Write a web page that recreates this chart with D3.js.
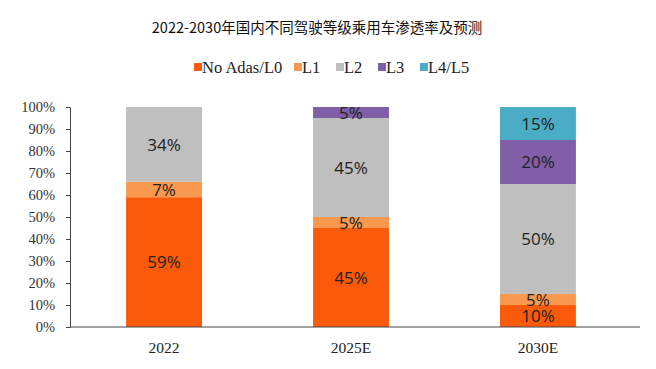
<!DOCTYPE html>
<html>
<head>
<meta charset="utf-8">
<script src="https://cdn.jsdelivr.net/npm/d3@7"></script>
<style>
  body { margin: 0; background: #fff; }
  svg { display: block; }
</style>
</head>
<body>
<svg id="chart" width="656" height="369"></svg>
<script>
// data
const years = ["2022", "2025E", "2030E"];
const levels = ["No Adas/L0", "L1", "L2", "L3", "L4/L5"];
const colors = ["#fb5a0b", "#f8994f", "#bfbfbf", "#7f5fa8", "#4bacc6"];
const l0 = [59, 45, 10];
const l1 = [7, 5, 5];
const l2 = [34, 45, 50];
const l3 = [0, 5, 20];
const l45 = [0, 0, 15];
const yTicks = [0, 10, 20, 30, 40, 50, 60, 70, 80, 90, 100];

const svg = d3.select("#chart");
const margin = { top: 107, left: 70 };
const width = 562;
const height = 220;

const rows = years.map((y, i) => ({ year: y, "No Adas/L0": l0[i], "L1": l1[i], "L2": l2[i], "L3": l3[i], "L4/L5": l45[i] }));
const series = d3.stack().keys(levels)(rows);

const x = d3.scaleBand().domain(years).range([0, width]).paddingInner(0.594).paddingOuter(0.3);
const y = d3.scaleLinear().domain([0, 100]).range([height, 0]);
const color = d3.scaleOrdinal().domain(levels).range(colors);

// title
svg.append("text")
  .attr("x", 317).attr("y", 33)
  .attr("text-anchor", "middle")
  .style("font-family", "'Noto Sans CJK SC', 'Noto Sans', sans-serif")
  .style("font-size", "14.5px")
  .style("fill", "#111")
  .text("2022-2030年国内不同驾驶等级乘用车渗透率及预测");

// legend
const legendX = [194, 294, 336, 378, 420];
const legend = svg.append("g").selectAll("g").data(levels).enter().append("g")
  .attr("transform", (d, i) => "translate(" + legendX[i] + ",63)");
legend.append("rect").attr("width", 8).attr("height", 8).attr("fill", d => color(d));
legend.append("text")
  .attr("x", 8).attr("y", 9.5)
  .style("font-family", "'Liberation Serif', 'Times New Roman', serif")
  .style("font-size", "16.5px")
  .style("fill", "#222")
  .text(d => d);

const g = svg.append("g").attr("transform", "translate(" + margin.left + "," + margin.top + ")");

// bars
const layer = g.selectAll(".layer").data(series).enter().append("g")
  .attr("fill", d => color(d.key));
layer.selectAll("rect").data(d => d.filter(s => s[1] - s[0] > 0)).enter().append("rect")
  .attr("x", d => x(d.data.year))
  .attr("y", d => y(d[1]))
  .attr("width", x.bandwidth())
  .attr("height", d => y(d[0]) - y(d[1]));

// segment labels
layer.selectAll("text").data(d => d.filter(s => s[1] - s[0] > 0)).enter().append("text")
  .attr("x", d => x(d.data.year) + x.bandwidth() / 2)
  .attr("y", d => y((d[0] + d[1]) / 2))
  .attr("dy", "0.36em")
  .attr("text-anchor", "middle")
  .style("font-family", "'Open Sans', 'Noto Sans', sans-serif")
  .style("font-size", "17px")
  .style("fill", "#222")
  .text(d => (d[1] - d[0]) + "%");

// y axis
const yAxis = g.append("g")
  .call(d3.axisLeft(y).tickValues(yTicks).tickSize(4).tickSizeOuter(0).tickFormat(d => d + "%"));
yAxis.select(".domain").attr("stroke", "#444");
yAxis.selectAll(".tick line").attr("stroke", "#444");
yAxis.selectAll("text")
  .attr("x", -15)
  .style("font-family", "'Liberation Serif', 'Times New Roman', serif")
  .style("font-size", "14.5px")
  .style("fill", "#333");

// x axis
const xAxis = g.append("g")
  .attr("transform", "translate(0," + height + ")")
  .call(d3.axisBottom(x).tickSize(0).tickSizeOuter(0));
xAxis.select(".domain").attr("stroke", "#444").attr("d", "M0,0H570");
xAxis.selectAll("text")
  .attr("dy", "1.5em")
  .style("font-family", "'Liberation Serif', 'Times New Roman', serif")
  .style("font-size", "15.5px")
  .style("fill", "#222");
</script>
</body>
</html>
